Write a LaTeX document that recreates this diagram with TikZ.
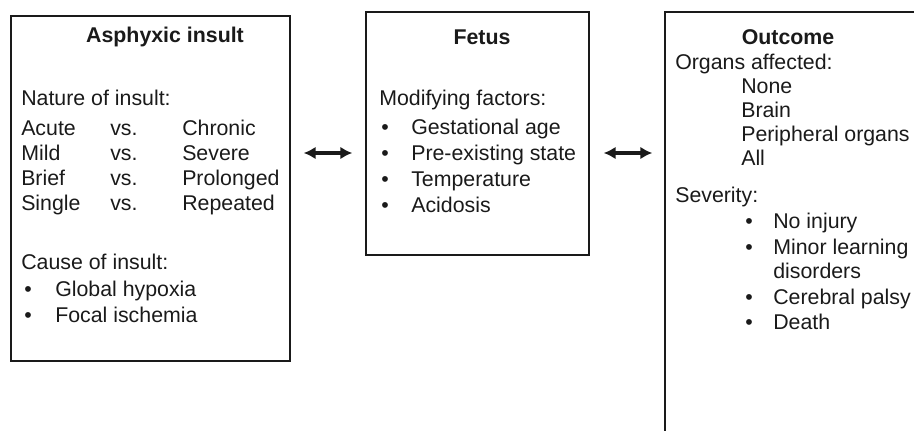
\documentclass[tikz,border=0pt]{standalone}
\usepackage{fontspec}
\setmainfont{Liberation Sans}
\usepackage{xcolor}
\usepackage{tikz}
\usetikzlibrary{arrows.meta}
\definecolor{ink}{HTML}{1A1A1A}
\tikzset{
  panel/.style={rectangle, draw=ink, line width=1pt, inner sep=0pt},
  head/.style={font=\fontsize{16}{19}\selectfont\bfseries, inner sep=0pt, text=ink},
  txt/.style={anchor=west, inner sep=0pt, text height=11.3pt, text depth=0pt, text=ink},
  dot/.style={anchor=west, inner sep=0pt, text height=11.3pt, text depth=0pt, text=ink},
  dblarr/.style={{Latex[length=9pt,width=9.5pt]}-{Latex[length=9pt,width=9.5pt]}, line width=2.4pt, ink},
}

\begin{document}
\begin{tikzpicture}[x=0.75pt, y=-0.75pt, font=\fontsize{16}{19}\selectfont]
\useasboundingbox (0,0) rectangle (914,430);
\clip (0,0) rectangle (914,430);
% ---- panels ----
\node[panel, minimum width=209.25pt, minimum height=258.75pt] (insult) at (150.5,188.5) {};
\node[panel, minimum width=167.25pt, minimum height=182.25pt] (fetus) at (477.5,133.5) {};
\node[panel, minimum width=225pt, minimum height=330pt] (outcome) at (815,232) {};
% ---- asphyxic insult ----
\node[head] (t1) at (165,37) {Asphyxic insult};
\node[txt] (nat) at (21,98) {Nature of insult:};
\foreach \a/\b [count=\i] in {Acute/Chronic, Mild/Severe, Brief/Prolonged, Single/Repeated} {
  \node[txt] (na\i) at (21,103+25*\i) {\a};
  \node[txt] (nv\i) at (110,103+25*\i) {vs.};
  \node[txt] (nb\i) at (182,103+25*\i) {\b};
}
\node[txt] (cau) at (21,262) {Cause of insult:};
\foreach \t [count=\i] in {Global hypoxia, Focal ischemia} {
  \node[dot] (cd\i) at (24,263+26*\i) {\textbullet};
  \node[txt] (ci\i) at (55,263+26*\i) {\t};
}
% ---- fetus ----
\node[head] (t2) at (482,37) {Fetus};
\node[txt] (mod) at (379,98) {Modifying factors:};
\foreach \t [count=\i] in {Gestational age, Pre-existing state, Temperature, Acidosis} {
  \node[dot] (md\i) at (381,101+26*\i) {\textbullet};
  \node[txt] (mi\i) at (411,101+26*\i) {\t};
}
% ---- outcome ----
\node[head] (t3) at (788,37) {Outcome};
\node[txt] (org) at (675,62) {Organs affected:};
\foreach \t [count=\i] in {None, Brain, Peripheral organs, All} {
  \node[txt] (oi\i) at (741,62+24*\i) {\t};
}
\node[txt] (sev) at (675,195) {Severity:};
\node[dot] (sd1) at (745,221) {\textbullet};
\node[txt] (si1) at (773,221) {No injury};
\node[dot] (sd2) at (745,247) {\textbullet};
\node[txt] (si2) at (773,247) {Minor learning};
\node[txt] (si2b) at (773,271) {disorders};
\node[dot] (sd3) at (745,297) {\textbullet};
\node[txt] (si3) at (773,297) {Cerebral palsy};
\node[dot] (sd4) at (745,322) {\textbullet};
\node[txt] (si4) at (773,322) {Death};
% ---- arrows ----
\coordinate (lvl) at (0,153);
\draw[dblarr, shorten <=9.75pt, shorten >=9.75pt] (insult.east |- lvl) -- (fetus.west |- lvl);
\draw[dblarr, shorten <=10.5pt, shorten >=9pt] (fetus.east |- lvl) -- (outcome.west |- lvl);
\end{tikzpicture}
\end{document}
